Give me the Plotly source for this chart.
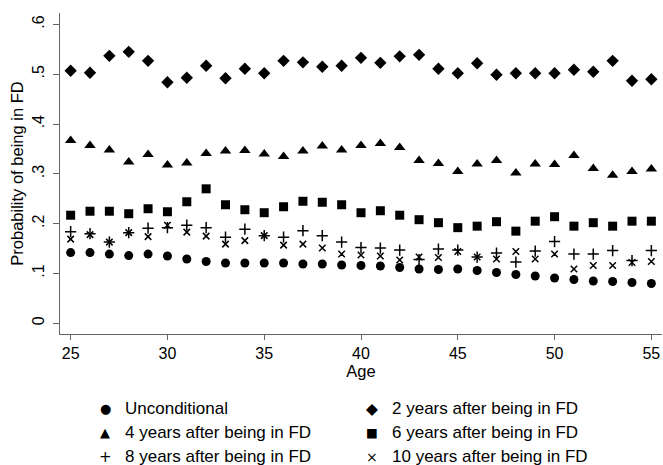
import plotly.graph_objects as go

ages = list(range(25, 56))

unconditional = [0.142, 0.142, 0.139, 0.136, 0.139, 0.135, 0.129, 0.124, 0.121, 0.121,
                 0.121, 0.121, 0.119, 0.119, 0.117, 0.116, 0.115, 0.112, 0.109, 0.108,
                 0.109, 0.106, 0.102, 0.098, 0.095, 0.091, 0.088, 0.085, 0.084, 0.082, 0.080]
two_years = [0.507, 0.503, 0.537, 0.545, 0.527, 0.484, 0.493, 0.517, 0.492, 0.511,
             0.502, 0.527, 0.524, 0.515, 0.517, 0.533, 0.523, 0.536, 0.539, 0.511,
             0.502, 0.522, 0.499, 0.502, 0.502, 0.502, 0.509, 0.505, 0.527, 0.487, 0.490]
four_years = [0.367, 0.357, 0.348, 0.324, 0.339, 0.318, 0.322, 0.341, 0.346, 0.347,
              0.340, 0.335, 0.346, 0.356, 0.348, 0.357, 0.361, 0.353, 0.327, 0.321,
              0.305, 0.320, 0.327, 0.302, 0.320, 0.319, 0.337, 0.311, 0.297, 0.305, 0.310]
six_years = [0.217, 0.225, 0.225, 0.220, 0.230, 0.224, 0.244, 0.270, 0.238, 0.228,
             0.222, 0.234, 0.245, 0.243, 0.238, 0.222, 0.226, 0.217, 0.208, 0.202,
             0.192, 0.195, 0.204, 0.185, 0.205, 0.214, 0.195, 0.202, 0.195, 0.205, 0.205]
eight_years = [0.184, 0.180, 0.163, 0.182, 0.191, 0.192, 0.197, 0.192, 0.173, 0.189,
               0.176, 0.173, 0.186, 0.176, 0.163, 0.152, 0.151, 0.147, 0.128, 0.149,
               0.147, 0.133, 0.141, 0.123, 0.145, 0.164, 0.139, 0.139, 0.146, 0.126, 0.146]
ten_years = [0.169, 0.178, 0.163, 0.182, 0.174, 0.197, 0.183, 0.175, 0.159, 0.166,
             0.176, 0.157, 0.159, 0.151, 0.139, 0.137, 0.135, 0.127, 0.133, 0.132,
             0.144, 0.133, 0.129, 0.144, 0.129, 0.139, 0.109, 0.116, 0.116, 0.122, 0.124]

y_tickvals = [0, 0.1, 0.2, 0.3, 0.4, 0.5, 0.6]
y_ticktext = ["0", ".1", ".2", ".3", ".4", ".5", ".6"]
x_tickvals = [25, 30, 35, 40, 45, 50, 55]

# name, values, plot symbol, size, legend glyph, glyph size, legend column, legend row
series = [
    ("Unconditional", unconditional, "circle", 9, "\u25CF", 13, 0, 0),
    ("2 years after being in FD", two_years, "diamond", 9.5, "\u25C6", 15.5, 1, 0),
    ("4 years after being in FD", four_years, "triangle-up", 10, "\u25B2", 13, 0, 1),
    ("6 years after being in FD", six_years, "square", 9, "\u25A0", 12.5, 1, 1),
    ("8 years after being in FD", eight_years, "cross-thin", 8, "+", 15, 0, 2),
    ("10 years after being in FD", ten_years, "x-thin", 6.5, "\u00D7", 14, 1, 2),
]

# plot area geometry (pixels) used to place the hand-made legend
L, T, W, H = 60, 13, 602, 321
col_sym_px = [105, 371.7]
col_txt_px = [122.5, 389.5]
row_px = [408.5, 432.5, 456.5]

FONT = "Liberation Sans, Arial, sans-serif"

fig = go.Figure()
annotations = []
for name, vals, sym, size, glyph, gsize, col, row in series:
    thin = sym.endswith("-thin")
    fig.add_trace(go.Scatter(
        x=ages, y=vals, mode="markers", name=name, showlegend=False,
        marker=dict(symbol=sym, size=size, color="black",
                    line=dict(color="black", width=1.5 if thin else 0)),
    ))
    yp = (T + H - row_px[row]) / H
    annotations.append(dict(
        xref="paper", yref="paper", x=(col_sym_px[col] - L) / W, y=yp,
        xanchor="center", yanchor="middle", text=glyph, showarrow=False,
        font=dict(size=gsize, color="black", family="DejaVu Sans"),
    ))
    annotations.append(dict(
        xref="paper", yref="paper", x=(col_txt_px[col] - L) / W, y=yp,
        xanchor="left", yanchor="middle", text=name, showarrow=False,
        font=dict(size=17, color="black", family=FONT),
    ))

fig.update_layout(
    width=663, height=465,
    margin=dict(l=L, r=663 - L - W, t=T, b=465 - T - H),
    paper_bgcolor="white", plot_bgcolor="white",
    font=dict(family=FONT, color="black", size=15),
    showlegend=False,
    annotations=annotations,
    xaxis=dict(range=[24.45, 55.55], tickvals=x_tickvals, showgrid=False, zeroline=False,
               showline=True, linecolor="#666", linewidth=1.3,
               ticks="outside", ticklen=5, tickcolor="#666", tickwidth=1.3,
               tickfont=dict(size=16),
               title=dict(text="Age", font=dict(size=16.5), standoff=4)),
    yaxis=dict(range=[-0.0215, 0.623], tickvals=y_tickvals, ticktext=y_ticktext,
               showgrid=False, zeroline=False, tickangle=-90,
               showline=True, linecolor="#666", linewidth=1.3,
               ticks="outside", ticklen=6, tickcolor="#666", tickwidth=1.3,
               tickfont=dict(size=16), ticklabelstandoff=2,
               title=dict(text="Probability of being in FD", font=dict(size=16.5), standoff=2)),
)

fig.write_html("out.html")
